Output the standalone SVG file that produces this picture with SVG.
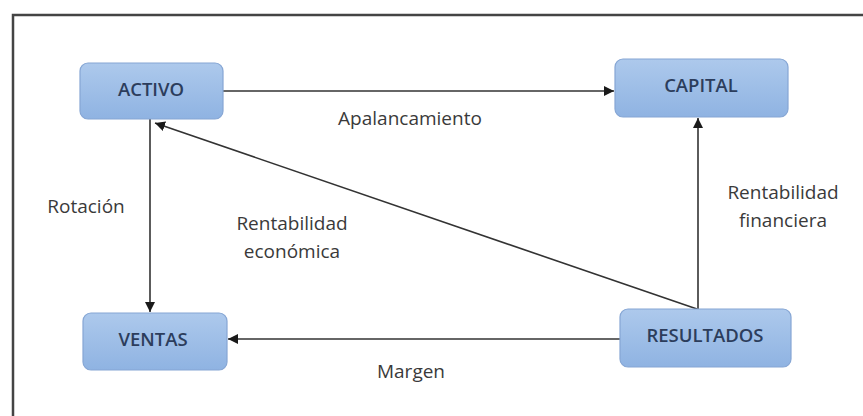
<svg xmlns="http://www.w3.org/2000/svg" width="863" height="416" viewBox="0 0 863 416">
<defs>
<linearGradient id="g" x1="0" y1="0" x2="0" y2="1">
<stop offset="0" stop-color="#adc9ec"/>
<stop offset="1" stop-color="#8fb3e2"/>
</linearGradient>
<marker id="ah" viewBox="0 0 10 10" refX="10" refY="5" markerWidth="10" markerHeight="10" markerUnits="userSpaceOnUse" orient="auto">
<path d="M0,0 L10,5 L0,10 z" fill="#1a1a1a"/>
</marker>
<style>
.box{fill:url(#g);stroke:#86a6d4;stroke-width:1.2}
.bt{font-family:"Open Sans","Liberation Sans",sans-serif;font-weight:600;font-size:18.5px;fill:#2c3d5c;text-anchor:middle;dominant-baseline:central}
.lb{font-family:"Open Sans","Liberation Sans",sans-serif;font-size:19px;fill:#3a3a3a;text-anchor:middle;dominant-baseline:central}
.c{stroke:#333;stroke-width:1.6;fill:none;marker-end:url(#ah)}
</style>
</defs>
<rect width="863" height="416" fill="#fff"/>
<path d="M13,416 V15 H863" fill="none" stroke="#444" stroke-width="2.5"/>
<g id="connectors">
<line class="c" x1="223" y1="91" x2="614" y2="91"/>
<line class="c" x1="150" y1="119" x2="150" y2="312"/>
<line class="c" x1="698" y1="309" x2="698" y2="118"/>
<line class="c" x1="697" y1="309" x2="155" y2="123"/>
<line class="c" x1="620" y1="339" x2="228" y2="339"/>
</g>
<g id="activo"><rect class="box" x="80" y="63" width="143" height="56" rx="8"/><text class="bt" x="151" y="88">ACTIVO</text></g>
<g id="capital"><rect class="box" x="615" y="59" width="173" height="58" rx="8"/><text class="bt" x="701" y="84">CAPITAL</text></g>
<g id="ventas"><rect class="box" x="83" y="313" width="144" height="57" rx="8"/><text class="bt" x="153" y="338">VENTAS</text></g>
<g id="resultados"><rect class="box" x="620" y="309" width="171" height="58" rx="8"/><text class="bt" x="705" y="334">RESULTADOS</text></g>
<g id="labels">
<text class="lb" x="410" y="118">Apalancamiento</text>
<text class="lb" x="86" y="206">Rotación</text>
<text class="lb" x="292" y="223">Rentabilidad</text>
<text class="lb" x="292" y="251">económica</text>
<text class="lb" x="783" y="192">Rentabilidad</text>
<text class="lb" x="783" y="220">financiera</text>
<text class="lb" x="411" y="371">Margen</text>
</g>
</svg>
